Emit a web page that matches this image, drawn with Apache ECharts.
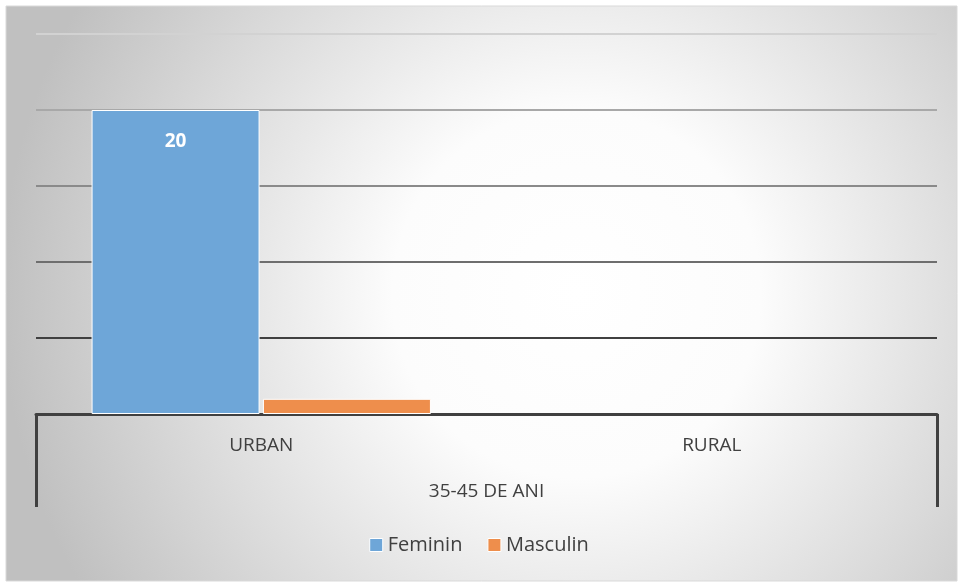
<!DOCTYPE html>
<html>
<head>
<meta charset="utf-8">
<script src="https://cdn.jsdelivr.net/npm/echarts@6/dist/echarts.min.js"></script>
<style>
    html, body { margin: 0; padding: 0; background: #ffffff; }
    #chart { width: 958px; height: 582px; }
</style>
</head>
<body>
<div id="chart"></div>
<script>
// date
var categorii = ['URBAN', 'RURAL'];
var grupa = ['35-45 DE ANI'];
var feminin = [20, null];
var masculin = [1, null];

var myChart = echarts.init(document.getElementById('chart'));
var option = {
    animation: false,
    graphic: {
        elements: [{
            type: 'rect',
            z: -10,
            silent: true,
            shape: { x: 6, y: 6, width: 951, height: 575 },
            style: {
                fill: new echarts.graphic.RadialGradient(0.6, 0.5, 1, [
                    { offset: 0, color: '#ffffff' },
                    { offset: 0.32, color: '#fcfcfc' },
                    { offset: 1, color: '#c0c0c0' }
                ]),
                stroke: '#d9d9d9',
                lineWidth: 1
            }
        }]
    },
    legend: {
        bottom: 22,
        left: 'center',
        itemWidth: 13,
        itemHeight: 13,
        itemGap: 25,
        icon: 'rect',
        itemStyle: { borderColor: '#ffffff', borderWidth: 1 },
        textStyle: { fontFamily: 'Open Sans', fontSize: 20, color: '#404040' },
        data: ['Feminin', 'Masculin']
    },
    grid: {
        left: 36,
        right: 21,
        top: 34,
        bottom: 168
    },
    xAxis: [{
        type: 'category',
        data: categorii,
        axisLine: { lineStyle: { color: '#404040', width: 3 } },
        axisTick: { show: false },
        axisLabel: {
            margin: 22,
            fontFamily: 'Open Sans',
            fontSize: 19,
            color: '#404040'
        }
    }, {
        type: 'category',
        position: 'bottom',
        data: grupa,
        axisLine: { show: false },
        axisTick: { show: true, length: 93, lineStyle: { color: '#404040', width: 3 } },
        axisLabel: {
            margin: 68,
            fontFamily: 'Open Sans',
            fontSize: 19,
            color: '#404040'
        }
    }],
    yAxis: {
        type: 'value',
        min: 0,
        max: 25,
        interval: 5,
        axisLabel: { show: false },
        axisLine: { show: false },
        axisTick: { show: false },
        splitLine: {
            lineStyle: {
                width: 2,
                color: ['#404040', '#404040', '#6e6e6e', '#8a8a8a', '#a8a8a8', '#d2d2d2']
            }
        }
    },
    series: [{
        name: 'Feminin',
        type: 'bar',
        data: feminin,
        barWidth: 168,
        barGap: '2%',
        itemStyle: { color: '#6ea6d8', borderColor: '#ffffff', borderWidth: 1 },
        label: {
            show: true,
            position: 'insideTop',
            distance: 22,
            color: '#ffffff',
            fontFamily: 'Open Sans',
            fontWeight: 'bold',
            fontSize: 19
        }
    }, {
        name: 'Masculin',
        type: 'bar',
        data: masculin,
        barWidth: 168,
        itemStyle: { color: '#ee8e4c', borderColor: '#ffffff', borderWidth: 1 }
    }]
};
// incarcare optiuni
myChart.setOption(option);
</script>
</body>
</html>
